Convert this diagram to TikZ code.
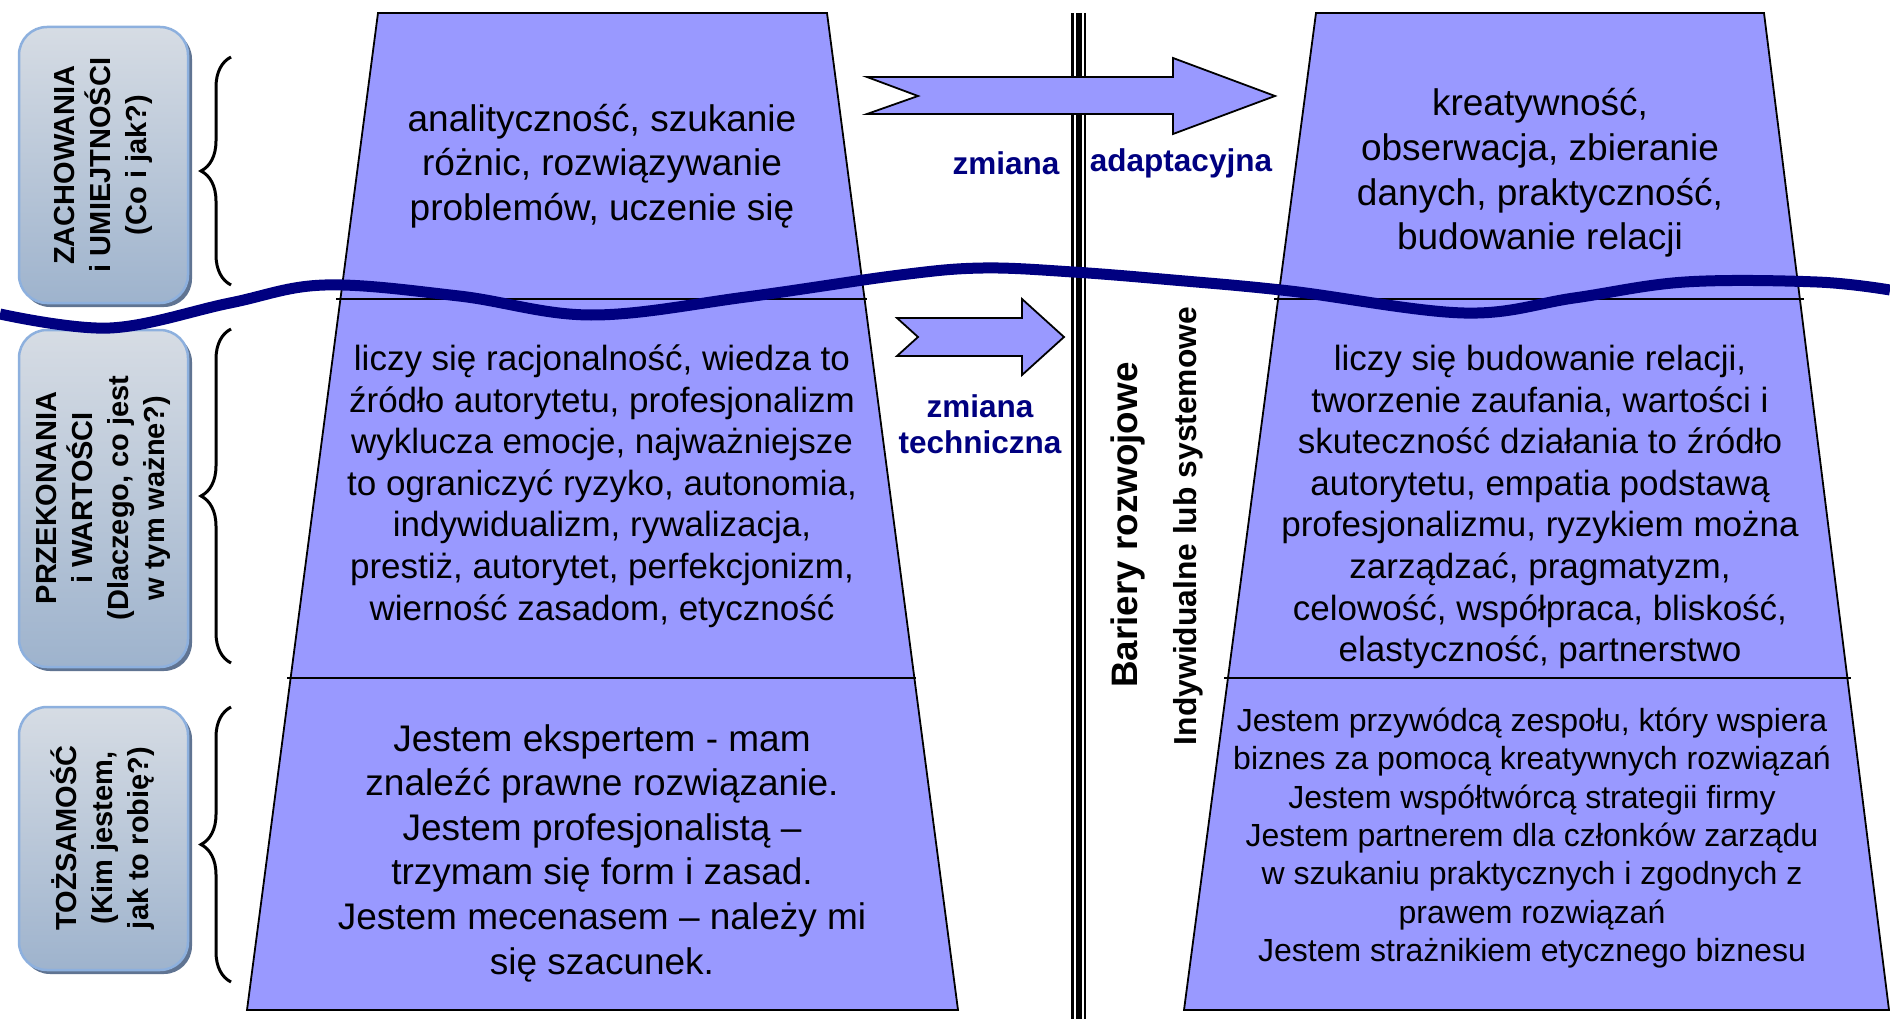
\documentclass[tikz,border=0pt]{standalone}
\usepackage{fontspec}
\setmainfont{Liberation Sans}
\usepackage{tikz}
\usetikzlibrary{decorations.pathreplacing}

\definecolor{layerblue}{RGB}{153,153,255}
\definecolor{wavenavy}{RGB}{0,0,128}
\definecolor{boxtop}{RGB}{214,220,228}
\definecolor{boxbot}{RGB}{158,179,205}
\definecolor{boxrim}{RGB}{141,176,222}
\definecolor{boxshade}{RGB}{96,116,146}

\newcommand{\bigtxt}{\fontsize{37}{44.6}\selectfont}
\newcommand{\midtxt}{\fontsize{35}{41.6}\selectfont}
\newcommand{\smalltxt}{\fontsize{32}{38.3}\selectfont}

\begin{document}
\begin{tikzpicture}[x=1pt,y=-1pt
	,line join=miter
	,semithick]
  \tikzstyle{layer}=[fill=layerblue,draw=black,line width=1.8pt]
  \tikzstyle{divider}=[draw=black,line width=1.6pt]
  \tikzstyle{levelbox}=[rounded corners=28pt,top color=boxtop,bottom color=boxbot
    ,draw=boxrim,line width=2.5pt]
  \tikzstyle{levelshade}=[rounded corners=28pt,fill=boxshade]
  \tikzstyle{leveltext}=[rotate=90,align=center,font=\bfseries\fontsize{29}{36}\selectfont]
  \tikzstyle{bracket}=[decorate,decoration={brace,amplitude=30pt},line width=3pt]
  \tikzstyle{blockarrow}=[fill=layerblue,draw=black,line width=1.8pt]
  \tikzstyle{change}=[text=wavenavy,font=\bfseries\fontsize{31.5}{36}\selectfont,align=center]

  \useasboundingbox[fill=white] (0,0) rectangle (1890,1019);

  % 3 level boxes
  \path[levelshade] (22,31) rectangle (192,307);
  \path[levelbox] (19,27) rectangle (188,303);
  \node[leveltext](zach) at (103,165) {ZACHOWANIA\\ i UMIEJTNOŚCI\\ (Co i jak?)};
  \path[levelshade] (22,334) rectangle (192,671);
  \path[levelbox] (19,330) rectangle (188,667);
  \node[leveltext](przek) at (103,498) {PRZEKONANIA\\ i WARTOŚCI\\ (Dlaczego, co jest\\ w tym ważne?)};
  \path[levelshade] (22,711) rectangle (192,974);
  \path[levelbox] (19,707) rectangle (188,970);
  \node[leveltext](tozs) at (103,838) {TOŻSAMOŚĆ\\ (Kim jestem,\\ jak to robię?)};

  % 3 braces
  \draw[bracket] (231,285) -- (231,57);
  \draw[bracket] (231,663) -- (231,329);
  \draw[bracket] (231,982) -- (231,707);

  % left pyramid
  \path[layer] (378,13) -- (827,13) -- (958,1010) -- (247,1010) -- cycle;
  \path[divider] (336,299) -- (867,299);
  \path[divider] (287,678) -- (916,678);
  % right pyramid
  \path[layer] (1316,13) -- (1764,13) -- (1889,1010) -- (1184,1010) -- cycle;
  \path[divider] (1274,299) -- (1804,299);
  \path[divider] (1224,678) -- (1851,678);

  % barrier
  \draw[line width=15pt] (1078.5,13) -- (1078.5,1019);
  \draw[white,line width=10pt] (1078.5,13) -- (1078.5,1019);
  \draw[line width=6pt] (1078.5,13) -- (1078.5,1019);

  % arrows
  \path[blockarrow] (867,77) -- (1173,77) -- (1173,58) -- (1275,96) -- (1173,134)
    -- (1173,114) -- (867,114) -- (918,96) -- cycle;
  \path[blockarrow] (897,318) -- (1022,318) -- (1022,299) -- (1064,337) -- (1022,375)
    -- (1022,356) -- (897,356) -- (918,337) -- cycle;

  % labels
  \node[change](zmA) at (1006,163) {zmiana};
  \node[change](adapt) at (1181,163) {adaptacyjna};
  \node[change](techn) at (980,424) {zmiana\\ techniczna};
  \node[rotate=90,font=\bfseries\fontsize{36.8}{40}\selectfont](bariery) at (1128,525) {Bariery rozwojowe};
  \node[rotate=90,font=\bfseries\fontsize{31.8}{36}\selectfont](indyw) at (1188,526) {Indywidualne lub systemowe};

  % left texts
  \node[align=center,font=\bigtxt](lbeh) at (602,166)
    {analityczność, szukanie\\ różnic, rozwiązywanie\\ problemów, uczenie się};
  \node[align=center,font=\midtxt](lval) at (602,486)
    {liczy się racjonalność, wiedza to\\ źródło autorytetu, profesjonalizm\\ wyklucza emocje, najważniejsze\\
     to ograniczyć ryzyko, autonomia,\\ indywidualizm, rywalizacja,\\ prestiż, autorytet, perfekcjonizm,\\
     wierność zasadom, etyczność};
  \node[align=center,font=\bigtxt](lid) at (602,853)
    {Jestem ekspertem - mam\\ znaleźć prawne rozwiązanie.\\ Jestem profesjonalistą –\\
     trzymam się form i zasad.\\ Jestem mecenasem – należy mi\\ się szacunek.};
  % right texts
  \node[align=center,font=\bigtxt](rbeh) at (1540,173)
    {kreatywność,\\ obserwacja, zbieranie\\ danych, praktyczność,\\ budowanie relacji};
  \node[align=center,font=\midtxt](rval) at (1540,507)
    {liczy się budowanie relacji,\\ tworzenie zaufania, wartości i\\ skuteczność działania to źródło\\
     autorytetu, empatia podstawą\\ profesjonalizmu, ryzykiem można\\ zarządzać, pragmatyzm,\\
     celowość, współpraca, bliskość,\\ elastyczność, partnerstwo};
  \node[align=center,font=\smalltxt](rid) at (1532,838)
    {Jestem przywódcą zespołu, który wspiera\\ biznes za pomocą kreatywnych rozwiązań\\
     Jestem współtwórcą strategii firmy\\ Jestem partnerem dla członków zarządu\\
     w szukaniu praktycznych i zgodnych z\\ prawem rozwiązań\\ Jestem strażnikiem etycznego biznesu};

  % the wave
  \draw[wavenavy,line width=11pt] plot[smooth,tension=0.6] coordinates {
    (0,314) (110,328) (230,303) (325,285) (459,296) (591,315) (746,297)
    (900,275) (983,268) (1073,272) (1173,280) (1290,291) (1464,313)
    (1574,298) (1685,282) (1817,282) (1890,290)};
\end{tikzpicture}
\end{document}
